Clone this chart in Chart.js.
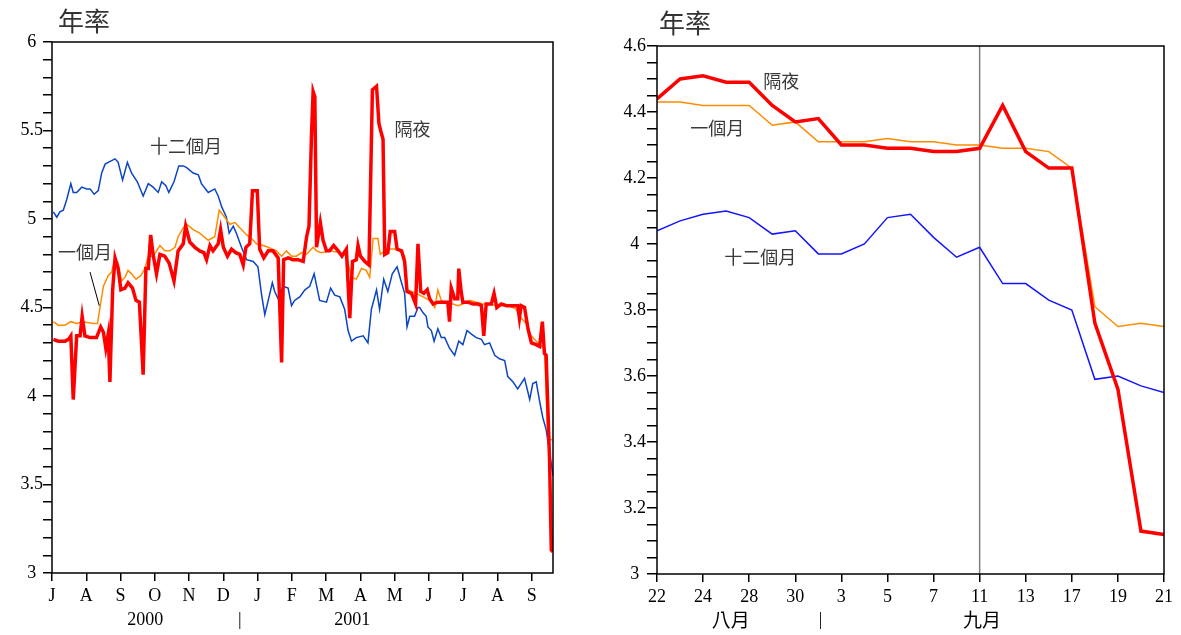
<!DOCTYPE html>
<html>
<head>
<meta charset="utf-8">
<script src="https://cdn.jsdelivr.net/npm/chart.js@4.4.0/dist/chart.umd.min.js"></script>
<style>
  body { margin: 0; background: #fff; }
  #wrap { position: relative; width: 1181px; height: 635px; }
  canvas { position: absolute; top: 0; }
</style>
</head>
<body>
<div id="wrap">
  <canvas id="left" width="590" height="635" style="left:0"></canvas>
  <canvas id="right" width="591" height="635" style="left:590px"></canvas>
</div>
<script>
// ---- 左圖：2000年7月至2001年9月 (x = 自2000年7月1日起的月數) ----
const monthLetters = ['J','A','S','O','N','D','J','F','M','A','M','J','J','A','S'];

const ovnMonths = [0.04,0.18,0.38,0.48,0.55,0.62,0.72,0.82,0.88,0.96, 1.11,1.30,1.42,1.50,1.57,1.64,1.69,1.77,1.84,1.93,
  2.01,2.13,2.22,2.35,2.45,2.55,2.66,2.74,2.81,2.88, 2.95,3.05,3.15,3.29,3.42,3.56,3.68,3.83,3.90,4.02,
  4.17,4.31,4.43,4.51,4.61,4.70,4.85,4.92,5.00,5.12, 5.24,5.36,5.48,5.58,5.66,5.77,5.85,5.99,6.06,6.18,
  6.31,6.45,6.60,6.70,6.76,6.89,7.03,7.18,7.33,7.43, 7.50,7.57,7.62,7.67,7.72,7.83,7.91,8.01,8.10,8.22,
  8.35,8.46,8.59,8.69,8.77,8.88,8.93,9.00,9.13,9.25, 9.35,9.47,9.54,9.59,9.66,9.71,9.80,9.87,10.00,10.07,
  10.20,10.29,10.36,10.49,10.61,10.68,10.76,10.85,10.95,11.02, 11.12,11.26,11.41,11.55,11.60,11.65,11.75,11.84,11.87,11.94,
  11.99,12.14,12.28,12.43,12.53,12.60,12.67,12.82,12.90,12.98, 13.11,13.26,13.45,13.59,13.64,13.69,13.79,13.89,13.99,14.13,
  14.23,14.31,14.37,14.42,14.52,14.57,14.62];
const ovnRates = [4.32,4.31,4.31,4.32,4.34,3.98,4.34,4.34,4.45,4.34, 4.33,4.33,4.39,4.36,4.27,4.35,4.08,4.60,4.78,4.72,
  4.60,4.61,4.64,4.61,4.54,4.53,4.12,4.72,4.72,4.91, 4.80,4.69,4.80,4.79,4.75,4.65,4.82,4.86,4.96,4.87,
  4.84,4.82,4.81,4.77,4.85,4.82,4.86,4.94,4.84,4.79, 4.83,4.81,4.80,4.74,4.84,4.86,5.16,5.16,4.83,4.78,
  4.82,4.82,4.78,4.19,4.77,4.78,4.77,4.77,4.76,4.90, 4.96,5.46,5.72,5.69,4.84,4.98,4.88,4.82,4.82,4.85,
  4.82,4.79,4.83,4.44,4.76,4.77,4.85,4.79,4.76,4.74, 5.73,5.75,5.54,5.50,5.45,4.80,4.81,4.93,4.93,4.83,
  4.82,4.76,4.59,4.58,4.52,4.86,4.59,4.58,4.60,4.55, 4.52,4.53,4.53,4.53,4.42,4.61,4.55,4.55,4.72,4.59,
  4.53,4.53,4.52,4.52,4.51,4.34,4.52,4.52,4.58,4.50, 4.52,4.51,4.51,4.51,4.44,4.51,4.50,4.38,4.30,4.29,
  4.28,4.42,4.24,4.23,3.64,3.13,3.12];

const m1Months = [0.04,0.18,0.38,0.55,0.72,0.91,1.20,1.33,1.40,1.50, 1.64,1.74,1.84,1.93,2.03,2.13,2.22,2.32,2.45,2.59,
  2.71,2.81,2.95,3.15,3.29,3.44,3.59,3.68,3.83,3.93, 4.12,4.31,4.56,4.75,4.88,5.04,5.19,5.34,5.48,5.68,
  5.82,5.97,6.16,6.31,6.43,6.55,6.70,6.84,6.99,7.13, 7.28,7.43,7.52,7.62,7.72,7.86,8.10,8.40,8.59,8.74,
  8.88,9.03,9.17,9.27,9.37,9.51,9.58,9.71,9.85,10.00, 10.15,10.29,10.36,10.49,10.63,10.83,11.02,11.17,11.26,11.36,
  11.51,11.70,11.84,11.99,12.19,12.38,12.57,12.77,12.97,13.16, 13.35,13.55,13.69,13.84,13.94,14.08,14.23,14.37,14.47,14.62];
const m1Rates = [4.42,4.40,4.40,4.42,4.41,4.42,4.41,4.41,4.50,4.62, 4.68,4.70,4.78,4.75,4.65,4.67,4.71,4.69,4.66,4.68,
  4.72,4.79,4.79,4.85,4.82,4.82,4.84,4.90,4.95,4.97, 4.94,4.92,4.88,4.90,5.05,5.01,4.97,4.98,4.95,4.91,
  4.89,4.86,4.85,4.84,4.83,4.82,4.79,4.82,4.79,4.79, 4.81,4.80,4.82,4.84,4.82,4.81,4.82,4.81,4.79,4.67,
  4.66,4.72,4.71,4.67,4.89,4.89,4.80,4.82,4.83,4.83, 4.82,4.79,4.60,4.59,4.58,4.56,4.54,4.50,4.60,4.54,
  4.53,4.52,4.51,4.52,4.54,4.53,4.52,4.52,4.51,4.51, 4.51,4.49,4.44,4.41,4.35,4.32,4.29,4.27,3.76,3.75];

const m12Months = [0.04,0.14,0.23,0.33,0.43,0.55,0.62,0.72,0.87,1.01, 1.11,1.23,1.35,1.45,1.55,1.64,1.74,1.84,1.93,2.06,
  2.20,2.32,2.49,2.66,2.81,2.95,3.10,3.20,3.32,3.41, 3.56,3.70,3.83,3.93,4.12,4.27,4.36,4.56,4.75,4.85,
  4.95,5.09,5.17,5.29,5.38,5.53,5.68,5.87,6.01,6.11, 6.21,6.31,6.43,6.50,6.62,6.74,6.89,6.99,7.08,7.23,
  7.38,7.52,7.65,7.81,8.01,8.13,8.25,8.40,8.54,8.64, 8.74,8.88,9.08,9.22,9.32,9.47,9.56,9.68,9.80,9.93,
  10.07,10.20,10.29,10.36,10.44,10.58,10.68,10.73,10.83,10.92, 10.97,11.07,11.15,11.26,11.36,11.46,11.60,11.75,11.87,11.99,
  12.11,12.24,12.38,12.53,12.62,12.77,12.92,13.06,13.21,13.30, 13.45,13.59,13.79,13.94,14.03,14.13,14.23,14.32,14.42,14.52,14.62];
const m12Rates = [5.04,5.01,5.04,5.05,5.11,5.20,5.15,5.15,5.18,5.17, 5.17,5.14,5.16,5.26,5.31,5.32,5.33,5.34,5.32,5.22,
  5.32,5.26,5.21,5.13,5.20,5.18,5.15,5.21,5.19,5.15, 5.21,5.30,5.30,5.29,5.26,5.25,5.20,5.15,5.17,5.13,
  5.07,5.01,4.92,4.96,4.92,4.84,4.77,4.76,4.73,4.58, 4.46,4.54,4.64,4.59,4.54,4.62,4.61,4.51,4.54,4.56,
  4.60,4.62,4.69,4.54,4.53,4.61,4.57,4.56,4.49,4.37, 4.31,4.33,4.34,4.30,4.49,4.60,4.49,4.66,4.59,4.69,
  4.73,4.64,4.58,4.39,4.45,4.45,4.50,4.50,4.47,4.45, 4.39,4.37,4.31,4.38,4.33,4.33,4.27,4.23,4.31,4.29,
  4.37,4.35,4.33,4.32,4.29,4.30,4.23,4.21,4.20,4.11, 4.08,4.04,4.10,3.98,4.07,4.08,3.97,3.88,3.81,3.68,3.55];

// ---- 右圖：2001年8月22日至9月21日 (營業日) ----
const days   = ['22','23','24','27','28','29','30','31','3','4','5','6','7','10','11','12','13','14','17','18','19','20','21'];
const ovnSep = [4.44,4.50,4.51,4.49,4.49,4.42,4.37,4.38,4.30,4.30,4.29,4.29,4.28,4.28,4.29,4.42,4.28,4.23,4.23,3.76,3.56,3.13,3.12];
const m1Sep  = [4.43,4.43,4.42,4.42,4.42,4.36,4.37,4.31,4.31,4.31,4.32,4.31,4.31,4.30,4.30,4.29,4.29,4.28,4.23,3.81,3.75,3.76,3.75];
const m12Sep = [4.04,4.07,4.09,4.10,4.08,4.03,4.04,3.97,3.97,4.00,4.08,4.09,4.02,3.96,3.99,3.88,3.88,3.83,3.80,3.59,3.60,3.57,3.55];

const RED = '#ff0000', ORANGE = '#ff8c00', BLUE_L = '#0a45c4', BLUE_R = '#1414ff';
const CJK = '"Noto Sans CJK TC", "Noto Sans CJK SC", sans-serif';
const SERIF = '"Liberation Serif", "DejaVu Serif", serif';

Chart.defaults.font.family = SERIF;
Chart.defaults.color = '#000';

function pts(xs, ys) {
  return xs.map((x, i) => ({ x: x, y: ys[i] }));
}

function line(data, color, width) {
  return { data: data, borderColor: color, borderWidth: width, pointRadius: 0, tension: 0, fill: false };
}

// 外框、文字標註、引線、垂直線
function notesPlugin(cfg) {
  return {
    id: 'notes',
    beforeDatasetsDraw(chart) {
      if (cfg.vline == null) return;
      const { ctx, chartArea: a, scales: { x } } = chart;
      const px = x.getPixelForValue(cfg.vline);
      ctx.save();
      ctx.strokeStyle = '#808080';
      ctx.lineWidth = 1.5;
      ctx.beginPath();
      ctx.moveTo(px, a.top);
      ctx.lineTo(px, a.bottom);
      ctx.stroke();
      ctx.restore();
    },
    afterDatasetsDraw(chart) {
      const { ctx, chartArea: a, scales: { x, y } } = chart;
      ctx.save();
      ctx.strokeStyle = '#000';
      ctx.lineWidth = 1.5;
      ctx.strokeRect(a.left, a.top, a.right - a.left, a.bottom - a.top);

      (cfg.leaders || []).forEach(l => {
        ctx.lineWidth = 1;
        ctx.beginPath();
        ctx.moveTo(x.getPixelForValue(l[0]), y.getPixelForValue(l[1]));
        ctx.lineTo(x.getPixelForValue(l[2]), y.getPixelForValue(l[3]));
        ctx.stroke();
      });

      ctx.textAlign = 'center';
      ctx.textBaseline = 'middle';
      ctx.fillStyle = '#3a3a3a';
      ctx.font = '18px ' + CJK;
      (cfg.labels || []).forEach(t => {
        ctx.fillText(t.text, x.getPixelForValue(t.x), y.getPixelForValue(t.y));
      });

      ctx.fillStyle = '#000';
      (cfg.below || []).forEach(t => {
        ctx.font = t.font;
        ctx.fillText(t.text, x.getPixelForValue(t.x), a.bottom + cfg.belowDy);
      });

      ctx.textAlign = 'left';
      ctx.fillStyle = '#333';
      ctx.font = '26px ' + CJK;
      ctx.fillText('年率', a.left + cfg.titleDx, cfg.titleY);
      ctx.restore();
    }
  };
}

function yTickFmt(major) {
  return function (v) {
    const r = v / major;
    if (Math.abs(r - Math.round(r)) > 1e-6) return '';
    return String(parseFloat(v.toFixed(2)));
  };
}

// 左圖
new Chart(document.getElementById('left'), {
  type: 'line',
  data: {
    datasets: [
      line(pts(ovnMonths, ovnRates), RED, 3.5),
      line(pts(m1Months, m1Rates), ORANGE, 1.5),
      line(pts(m12Months, m12Rates), BLUE_L, 1.5)
    ]
  },
  options: {
    responsive: false,
    animation: false,
    layout: { padding: { left: 0, top: 42, right: 37, bottom: 0 } },
    plugins: { legend: { display: false }, tooltip: { enabled: false } },
    scales: {
      x: {
        type: 'linear', min: 0, max: 14.62,
        afterFit: s => { s.height = 62; },
        border: { display: false },
        grid: { drawOnChartArea: false, tickLength: 8, color: '#000', lineWidth: 1.5 },
        ticks: {
          stepSize: 1, includeBounds: false, autoSkip: false, maxRotation: 0,
          padding: 4, font: { size: 18 },
          callback: v => monthLetters[v]
        }
      },
      y: {
        min: 3, max: 6,
        afterFit: s => { s.width = 52; },
        border: { display: false },
        grid: { drawOnChartArea: false, tickLength: 9, color: '#000', lineWidth: 1.5 },
        ticks: {
          stepSize: 0.1, autoSkip: false, padding: 0, crossAlign: 'center',
          font: { size: 18 },
          callback: yTickFmt(0.5)
        }
      }
    }
  },
  plugins: [notesPlugin({
    titleDx: 6, titleY: 21,
    labels: [
      { text: '十二個月', x: 3.91, y: 5.41 },
      { text: '隔夜', x: 10.52, y: 5.51 },
      { text: '一個月', x: 0.96, y: 4.81 }
    ],
    leaders: [[1.11, 4.70, 1.38, 4.51]],
    belowDy: 47,
    below: [
      { text: '2000', x: 2.72, font: '18px ' + SERIF },
      { text: '|', x: 5.48, font: '18px ' + SERIF },
      { text: '2001', x: 8.76, font: '18px ' + SERIF }
    ]
  })]
});

// 右圖
new Chart(document.getElementById('right'), {
  type: 'line',
  data: {
    datasets: [
      line(pts(days.map((d, i) => i), ovnSep), RED, 3.5),
      line(pts(days.map((d, i) => i), m1Sep), ORANGE, 1.5),
      line(pts(days.map((d, i) => i), m12Sep), BLUE_R, 1.5)
    ]
  },
  options: {
    responsive: false,
    animation: false,
    layout: { padding: { left: 0, top: 46, right: 17, bottom: 0 } },
    plugins: { legend: { display: false }, tooltip: { enabled: false } },
    scales: {
      x: {
        type: 'linear', min: 0, max: days.length - 1,
        afterFit: s => { s.height = 61; },
        border: { display: false },
        grid: { drawOnChartArea: false, tickLength: 8, color: '#000', lineWidth: 1.5 },
        ticks: {
          stepSize: 2, autoSkip: false, maxRotation: 0,
          padding: 4, font: { size: 18 },
          callback: v => days[v]
        }
      },
      y: {
        min: 3, max: 4.6,
        afterFit: s => { s.width = 67; },
        border: { display: false },
        grid: { drawOnChartArea: false, tickLength: 10, color: '#000', lineWidth: 1.5 },
        ticks: {
          stepSize: 0.05, autoSkip: false, padding: 1, crossAlign: 'center',
          font: { size: 18 },
          callback: yTickFmt(0.2)
        }
      }
    }
  },
  plugins: [notesPlugin({
    titleDx: 2, titleY: 23,
    vline: days.indexOf('11'),
    labels: [
      { text: '隔夜', x: 5.39, y: 4.494 },
      { text: '一個月', x: 2.61, y: 4.35 },
      { text: '十二個月', x: 4.48, y: 3.96 }
    ],
    belowDy: 46,
    below: [
      { text: '八月', x: 3.2, font: '19px ' + CJK },
      { text: '|', x: 7.1, font: '18px ' + SERIF },
      { text: '九月', x: 14.1, font: '19px ' + CJK }
    ]
  })]
});
</script>
</body>
</html>
